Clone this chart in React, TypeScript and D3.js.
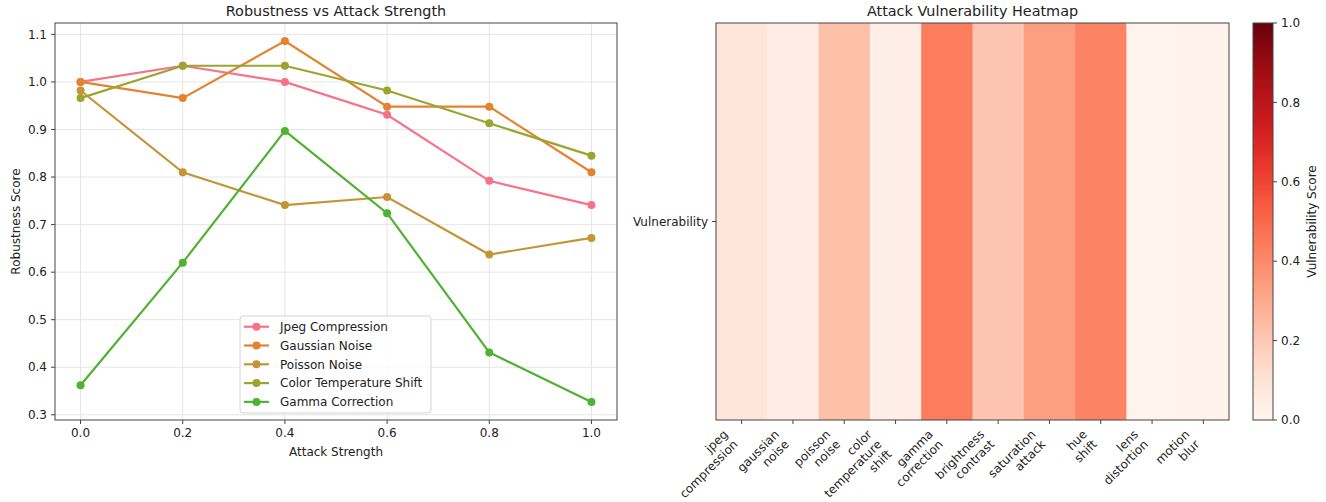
import React from 'react';
import * as d3 from 'd3';

// attack strengths on the x axis of the line chart
const strengths = [0.0, 0.2, 0.4, 0.6, 0.8, 1.0];

const jpegCompression = [1.0, 1.034, 1.0, 0.931, 0.792, 0.741];
const gaussianNoise = [1.0, 0.966, 1.086, 0.948, 0.948, 0.81];
const poissonNoise = [0.982, 0.81, 0.741, 0.758, 0.637, 0.672];
const colorTemperatureShift = [0.966, 1.034, 1.034, 0.982, 0.913, 0.845];
const gammaCorrection = [0.362, 0.62, 0.897, 0.724, 0.431, 0.327];

const seriesNames = ['Jpeg Compression', 'Gaussian Noise', 'Poisson Noise', 'Color Temperature Shift', 'Gamma Correction'];
const seriesColors = ['#f77189', '#e5822f', '#c39536', '#9ca42f', '#4eb232'];

const xTicks = [0, 0.2, 0.4, 0.6, 0.8, 1.0];
const yTicks = [0.3, 0.4, 0.5, 0.6, 0.7, 0.8, 0.9, 1.0, 1.1];

// heatmap
const attacks = [
  'jpeg\ncompression', 'gaussian\nnoise', 'poisson\nnoise', 'color\ntemperature\nshift', 'gamma\ncorrection',
  'brightness\ncontrast', 'saturation\nattack', 'hue\nshift', 'lens\ndistortion', 'motion\nblur',
];
const vulnerability = [0.085, 0.045, 0.233, 0.042, 0.44, 0.215, 0.335, 0.418, 0.012, 0.015];
const rowLabels = ['Vulnerability'];
const colorbarTicks = [0, 0.2, 0.4, 0.6, 0.8, 1.0];

const W = 1326;
const H = 502;
const FONT = 'DejaVu Sans, sans-serif';
const TXT = '#222';
const SPINE = '#444';

const App = () => {
  const series = [jpegCompression, gaussianNoise, poissonNoise, colorTemperatureShift, gammaCorrection];

  // left panel
  const L = { left: 55, right: 617, top: 23, bottom: 420 };
  const x = d3.scaleLinear().domain([-0.05, 1.05]).range([L.left, L.right]);
  const all = series.flat();
  const lo = d3.min(all) as number;
  const hi = d3.max(all) as number;
  const m = (hi - lo) * 0.05;
  const y = d3.scaleLinear().domain([lo - m, hi + m]).range([L.bottom, L.top]);
  const line = d3.line<number>().x((_, i) => x(strengths[i])).y(d => y(d));

  // right panel
  const R = { left: 716, right: 1229, top: 23, bottom: 420 };
  const hx = d3.scaleBand().domain(attacks).range([R.left, R.right]);
  const hy = d3.scaleBand().domain(rowLabels).range([R.top, R.bottom]);
  const cbar = { left: 1253, right: 1273 };
  const cy = d3.scaleLinear().domain([0, 1]).range([R.bottom, R.top]);
  const stops = d3.range(0, 1.0001, 0.05);

  const legendX = 240;
  const legendY = 316;

  return (
    <svg width={W} height={H} style={{ position: 'absolute', left: 0, top: 0, background: '#fff' }} fontFamily={FONT}>
      <defs>
        <linearGradient id="reds" x1="0" y1="1" x2="0" y2="0">
          {stops.map(s => <stop key={s} offset={s} stopColor={d3.interpolateReds(s)} />)}
        </linearGradient>
        <clipPath id="lclip">
          <rect x={L.left} y={L.top} width={L.right - L.left} height={L.bottom - L.top} />
        </clipPath>
      </defs>

      {/* ---------- left: line chart ---------- */}
      <text x={(L.left + L.right) / 2} y={16} textAnchor="middle" fontSize={14.4} fill={TXT}>Robustness vs Attack Strength</text>
      <g>
        {xTicks.map(t => (
          <line key={'gx' + t} x1={x(t)} x2={x(t)} y1={L.top} y2={L.bottom} stroke="#e6e6e6" strokeWidth={1} />
        ))}
        {yTicks.map(t => (
          <line key={'gy' + t} x1={L.left} x2={L.right} y1={y(t)} y2={y(t)} stroke="#e6e6e6" strokeWidth={1} />
        ))}
      </g>
      <g clipPath="url(#lclip)">
        {series.map((s, k) => (
          <g key={k}>
            <path d={line(s) as string} fill="none" stroke={seriesColors[k]} strokeWidth={2.2} />
            {s.map((v, i) => (
              <circle key={i} cx={x(strengths[i])} cy={y(v)} r={4} fill={seriesColors[k]} />
            ))}
          </g>
        ))}
      </g>
      <rect x={L.left} y={L.top} width={L.right - L.left} height={L.bottom - L.top} fill="none" stroke={SPINE} strokeWidth={1} />
      {xTicks.map(t => (
        <g key={'xt' + t}>
          <line x1={x(t)} x2={x(t)} y1={L.bottom} y2={L.bottom + 4} stroke={SPINE} />
          <text x={x(t)} y={437} textAnchor="middle" fontSize={12} fill={TXT}>{d3.format('.1f')(t)}</text>
        </g>
      ))}
      {yTicks.map(t => (
        <g key={'yt' + t}>
          <line x1={L.left - 4} x2={L.left} y1={y(t)} y2={y(t)} stroke={SPINE} />
          <text x={L.left - 8} y={y(t)} dy="0.35em" textAnchor="end" fontSize={12} fill={TXT}>{d3.format('.1f')(t)}</text>
        </g>
      ))}
      <text x={(L.left + L.right) / 2} y={456} textAnchor="middle" fontSize={12} fill={TXT}>Attack Strength</text>
      <text transform={`translate(20,${(L.top + L.bottom) / 2}) rotate(-90)`} textAnchor="middle" fontSize={12} fill={TXT}>Robustness Score</text>

      {/* legend */}
      <g>
        <rect x={legendX} y={legendY} width={191} height={97} rx={3} fill="#fff" fillOpacity={0.8} stroke="#d4d4d4" />
        {seriesNames.map((n, i) => {
          const yy = legendY + 10.7 + i * 18.8;
          return (
            <g key={n}>
              <line x1={legendX + 4} x2={legendX + 29} y1={yy} y2={yy} stroke={seriesColors[i]} strokeWidth={2.2} />
              <circle cx={legendX + 16.5} cy={yy} r={4} fill={seriesColors[i]} />
              <text x={legendX + 40} y={yy} dy="0.35em" fontSize={12} fill={TXT}>{n}</text>
            </g>
          );
        })}
      </g>

      {/* ---------- right: heatmap ---------- */}
      <text x={(R.left + R.right) / 2} y={16} textAnchor="middle" fontSize={14.4} fill={TXT}>Attack Vulnerability Heatmap</text>
      {attacks.map((a, i) => (
        <rect key={a} x={hx(a)} y={hy(rowLabels[0])} width={hx.bandwidth() + 0.5} height={hy.bandwidth()} fill={d3.interpolateReds(vulnerability[i])} />
      ))}
      <rect x={R.left} y={R.top} width={R.right - R.left} height={R.bottom - R.top} fill="none" stroke={SPINE} strokeWidth={1} />
      {rowLabels.map(r => {
        const yy = (hy(r) as number) + hy.bandwidth() / 2;
        return (
          <g key={r}>
            <line x1={R.left - 4} x2={R.left} y1={yy} y2={yy} stroke={SPINE} />
            <text x={R.left - 8} y={yy} dy="0.35em" textAnchor="end" fontSize={12} fill={TXT}>{r}</text>
          </g>
        );
      })}
      {attacks.map(a => {
        const cx = (hx(a) as number) + hx.bandwidth() / 2;
        const lines = a.split('\n');
        const asc = 9.5;
        const lh = 14;
        const off = ((lines.length - 1) * lh + 4.5) * Math.SQRT1_2;
        return (
          <g key={'lab' + a}>
            <line x1={cx} x2={cx} y1={R.bottom} y2={R.bottom + 4} stroke={SPINE} />
            <g transform={`translate(${cx - off},${R.bottom + 8.4 + asc * Math.SQRT1_2}) rotate(-45)`}>
              <text textAnchor="end" fontSize={12} fill={TXT}>
                {lines.map((t, j) => (
                  <tspan key={j} x={0} y={j * lh}>{t}</tspan>
                ))}
              </text>
            </g>
          </g>
        );
      })}

      {/* colorbar */}
      <rect x={cbar.left} y={R.top} width={cbar.right - cbar.left} height={R.bottom - R.top} fill="url(#reds)" stroke={SPINE} strokeWidth={1} />
      {colorbarTicks.map(t => (
        <g key={'cb' + t}>
          <line x1={cbar.right} x2={cbar.right + 4} y1={cy(t)} y2={cy(t)} stroke={SPINE} />
          <text x={cbar.right + 8} y={cy(t)} dy="0.35em" fontSize={12} fill={TXT}>{d3.format('.1f')(t)}</text>
        </g>
      ))}
      <text transform={`translate(1316,${(R.top + R.bottom) / 2}) rotate(-90)`} textAnchor="middle" fontSize={12} fill={TXT}>Vulnerability Score</text>
    </svg>
  );
};

export default App;
